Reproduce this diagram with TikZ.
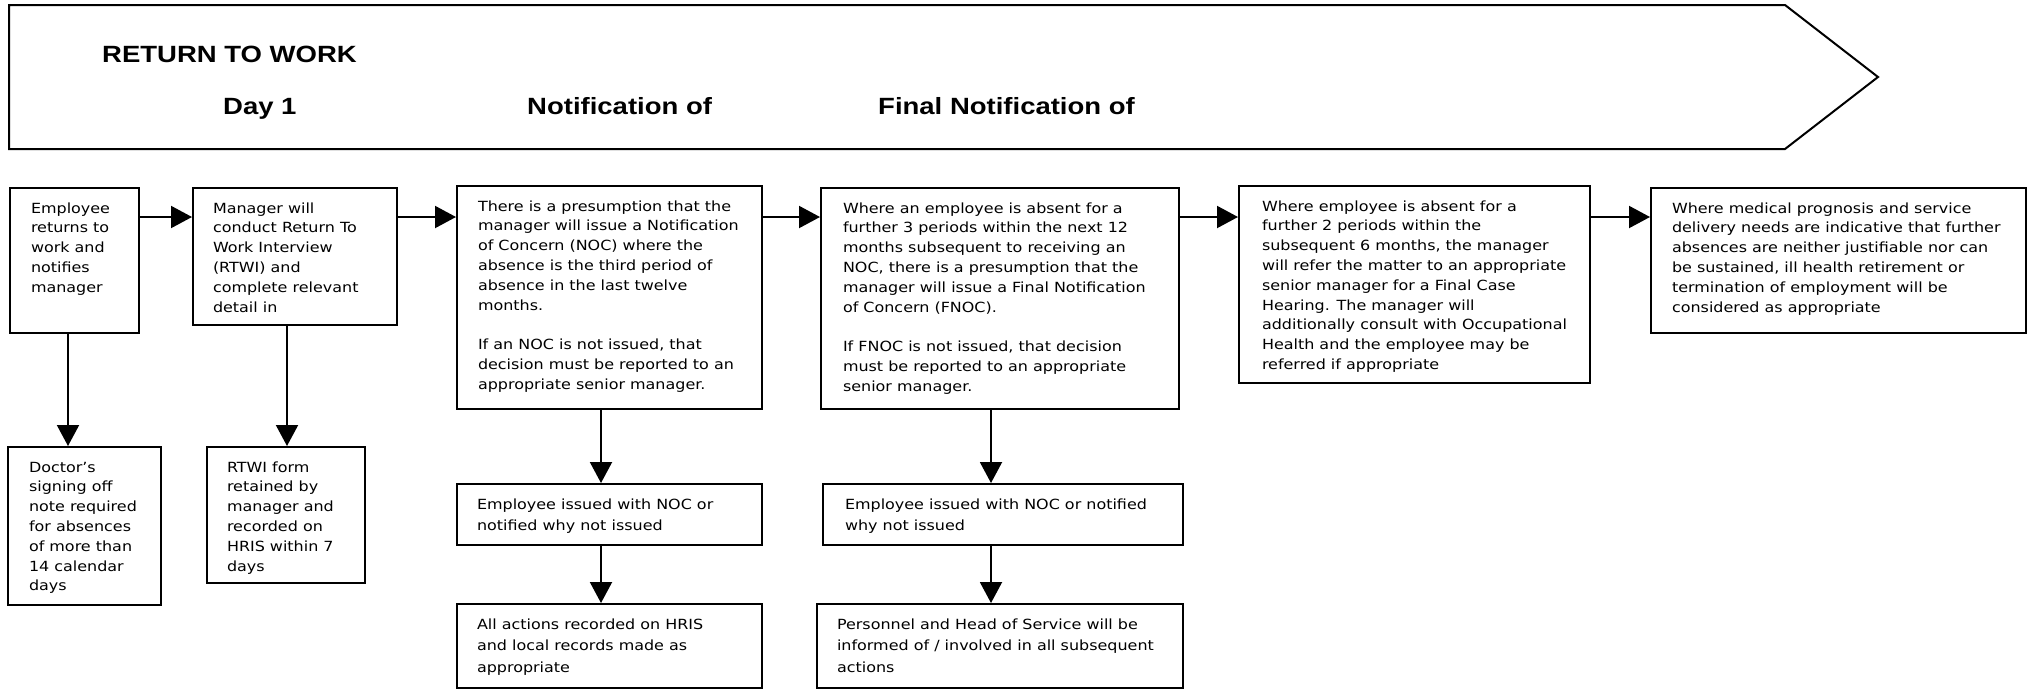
\documentclass[tikz,border=0pt]{standalone}
\usepackage{fontspec}
\setmainfont{DejaVu Sans}
\newfontfamily\bodyfam{DejaVu Sans}[FakeStretch=1.14]
\newfontfamily\headfam{Liberation Sans}[FakeStretch=1.17]
\usetikzlibrary{arrows.meta}
\newcommand{\bx}[4][21pt]{\parbox[c][#3][t]{#2}{\leftskip=#1\rightskip=-100pt plus 1fil\relax\rule{0pt}{25pt}#4}}
\begin{document}
\begin{tikzpicture}[x=1pt,y=-1pt,
  box/.style={draw, line width=2pt, inner sep=0pt, anchor=north west, font=\bodyfam\fontsize{14}{19.8}\selectfont},
  lowbox/.style={box, font=\bodyfam\fontsize{14}{21.5}\selectfont},
  head/.style={anchor=base west, inner sep=0pt, font=\headfam\bfseries\fontsize{23.5}{28}\selectfont},
  arr/.style={line width=2pt, -{Triangle[length=21pt,width=22pt]}}]
\useasboundingbox (0,0) rectangle (2031,689);
% banner
\draw[line width=2pt, line join=miter] (9,5) -- (1785,5) -- (1878,77) -- (1785,149) -- (9,149) -- cycle;
\node[head] (rtw) at (102,62) {RETURN TO WORK};
\node[head] (day) at (223,114) {Day 1};
\node[head] (noch) at (527,114) {Notification of};
\node[head] (fnoch) at (878,114) {Final Notification of};
% top row
\node[box] (emp) at (9,187) {\bx{129pt}{145pt}{Employee\\returns to\\work and\\notifies\\manager}};
\node[box] (mgr) at (192,187) {\bx[20pt]{204pt}{137pt}{Manager will\\conduct Return To\\Work Interview\\(RTWI) and\\complete relevant\\detail in}};
\node[box] (noc) at (456,185) {\bx{305pt}{223pt}{There is a presumption that the\\manager will issue a Notification\\of Concern (NOC) where the\\absence is the third period of\\absence in the last twelve\\months.\\[19.8pt]If an NOC is not issued, that\\decision must be reported to an\\appropriate senior manager.}};
\node[box] (fnoc) at (820,187) {\bx[22pt]{358pt}{221pt}{Where an employee is absent for a\\further 3 periods within the next 12\\months subsequent to receiving an\\NOC, there is a presumption that the\\manager will issue a Final Notification\\of Concern (FNOC).\\[19.8pt]If FNOC is not issued, that decision\\must be reported to an appropriate\\senior manager.}};
\node[box] (fch) at (1238,185) {\bx[23pt]{351pt}{197pt}{Where employee is absent for a\\further 2 periods within the\\subsequent 6 months, the manager\\will refer the matter to an appropriate\\senior manager for a Final Case\\Hearing. The manager will\\additionally consult with Occupational\\Health and the employee may be\\referred if appropriate}};
\node[box] (term) at (1650,187) {\bx{375pt}{145pt}{Where medical prognosis and service\\delivery needs are indicative that further\\absences are neither justifiable nor can\\be sustained, ill health retirement or\\termination of employment will be\\considered as appropriate}};
% lower boxes
\node[box] (doc) at (7,446) {\bx{153pt}{158pt}{Doctor’s\\signing off\\note required\\for absences\\of more than\\14 calendar\\days}};
\node[box] (rtwi) at (206,446) {\bx[20pt]{158pt}{136pt}{RTWI form\\retained by\\manager and\\recorded on\\HRIS within 7\\days}};
\node[lowbox] (noc2) at (456,483) {\bx[20pt]{305pt}{61pt}{Employee issued with NOC or\\notified why not issued}};
\node[lowbox] (noc3) at (456,603) {\bx[20pt]{305pt}{84pt}{All actions recorded on HRIS\\and local records made as\\appropriate}};
\node[lowbox] (fnoc2) at (822,483) {\bx[22pt]{360pt}{61pt}{Employee issued with NOC or notified\\why not issued}};
\node[lowbox] (fnoc3) at (816,603) {\bx[20pt]{366pt}{84pt}{Personnel and Head of Service will be\\informed of / involved in all subsequent\\actions}};
% connectors
\coordinate (row) at (0,217);
\coordinate (c1) at (68,0);
\coordinate (c2) at (287,0);
\coordinate (c3) at (601,0);
\coordinate (c4) at (991,0);
\draw[arr] (emp.east |- row) -- (mgr.west |- row);
\draw[arr] (mgr.east |- row) -- (noc.west |- row);
\draw[arr] (noc.east |- row) -- (fnoc.west |- row);
\draw[arr] (fnoc.east |- row) -- (fch.west |- row);
\draw[arr] (fch.east |- row) -- (term.west |- row);
\draw[arr] (emp.south -| c1) -- (doc.north -| c1);
\draw[arr] (mgr.south -| c2) -- (rtwi.north -| c2);
\draw[arr] (noc.south -| c3) -- (noc2.north -| c3);
\draw[arr] (noc2.south -| c3) -- (noc3.north -| c3);
\draw[arr] (fnoc.south -| c4) -- (fnoc2.north -| c4);
\draw[arr] (fnoc2.south -| c4) -- (fnoc3.north -| c4);
\end{tikzpicture}
\end{document}
